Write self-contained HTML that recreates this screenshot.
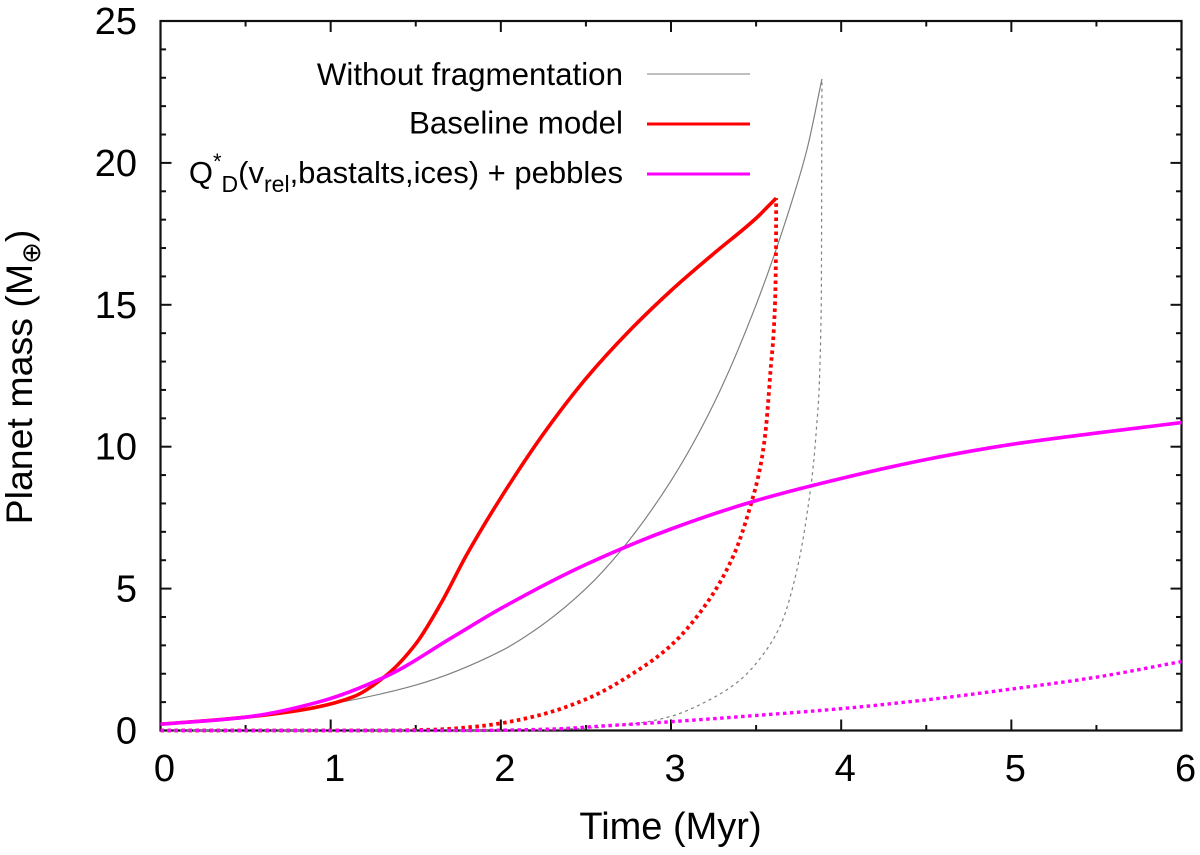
<!DOCTYPE html>
<html lang="en">
<head>
<meta charset="utf-8">
<title>Planet mass vs time</title>
<style>
html,body{margin:0;padding:0;background:#fff;}
svg{display:block;font-family:"Liberation Sans",sans-serif;fill:#000;}
</style>
</head>
<body>
<svg id="chart" xmlns="http://www.w3.org/2000/svg" width="1200" height="855" viewBox="0 0 1200 855">
  <rect x="0" y="0" width="1200" height="855" fill="#fff"/>
  <g id="ticks"></g>
  <g id="tick-labels"></g>
  <rect x="160.5" y="21" width="1021" height="709.5" fill="none" stroke="#111" stroke-width="2.2"/>
  <g id="series"></g>
  <text x="670.5" y="839" font-size="38" text-anchor="middle">Time (Myr)</text>
  <text transform="translate(32,377) rotate(-90)" font-size="37.5" text-anchor="middle">Planet mass (M<tspan font-size="26" dy="8">⊕</tspan><tspan dy="-8">)</tspan></text>
  <g>
    <g>
      <text x="623" y="85" font-size="31.3" text-anchor="end">Without fragmentation</text>
      <line x1="647" x2="750" y1="74" y2="74" stroke="#aaa" stroke-width="1.6"/>
    </g>
    <g>
      <text x="623" y="133.5" font-size="31.3" text-anchor="end">Baseline model</text>
      <line x1="647" x2="750" y1="124" y2="124" stroke="#ff0000" stroke-width="3"/>
    </g>
    <g>
      <text x="623" y="183" font-size="31" text-anchor="end">Q<tspan font-size="22" dy="-14">*</tspan><tspan font-size="23" dy="23">D</tspan><tspan dy="-9">(v</tspan><tspan font-size="23" dy="9">rel</tspan><tspan dy="-9">,bastalts,ices) + pebbles</tspan></text>
      <line x1="647" x2="750" y1="174" y2="174" stroke="#ff00ff" stroke-width="3"/>
    </g>
  </g>
</svg>
<script>
const xTickLabels = [0, 1, 2, 3, 4, 5, 6];
const yTickLabels = [0, 5, 10, 15, 20, 25];
const xMinorTicks = [0.5, 1.5, 2.5, 3.5, 4.5, 5.5];
const yMinorTicks = [1, 2, 3, 4, 6, 7, 8, 9, 11, 12, 13, 14, 16, 17, 18, 19, 21, 22, 23, 24];

const grayTime = [0, 0.5, 1.0, 1.5, 2.0, 2.25, 2.5, 2.7, 3.0, 3.25, 3.5, 3.7, 3.8, 3.887];
const grayMass = [0.22, 0.47, 0.93, 1.6, 2.8, 3.75, 5.0, 6.3, 8.8, 11.5, 15.0, 18.45, 20.5, 22.96];

const redTime = [0, 0.5, 0.9, 1.134, 1.33, 1.5, 1.65, 1.8, 2.0, 2.25, 2.5, 2.75, 3.0, 3.25, 3.5, 3.618];
const redMass = [0.22, 0.47, 0.8, 1.19, 1.96, 3.05, 4.5, 6.2, 8.2, 10.45, 12.4, 14.05, 15.5, 16.8, 18.05, 18.76];

const magentaTime = [0, 0.5, 0.938, 1.33, 1.72, 2.0, 2.5, 3.0, 3.5, 4.0, 4.5, 5.0, 5.5, 6.0];
const magentaMass = [0.22, 0.47, 1.02, 1.92, 3.3, 4.3, 5.85, 7.1, 8.1, 8.88, 9.55, 10.08, 10.48, 10.85];

const grayCoreTime = [0, 2.0, 2.5, 2.8, 3.0, 3.2, 3.4, 3.55, 3.65, 3.74, 3.8, 3.854, 3.883, 3.887];
const grayCoreMass = [0, 0, 0.08, 0.25, 0.5, 1.0, 1.75, 2.75, 3.8, 5.66, 7.66, 10.6, 15, 22.96];

const redCoreTime = [0, 1.3, 1.6, 1.9, 2.2, 2.5, 2.8, 3.0, 3.2, 3.37, 3.466, 3.525, 3.555, 3.585, 3.608, 3.617, 3.618];
const redCoreMass = [0, 0, 0.03, 0.17, 0.5, 1.1, 2.1, 3.0, 4.4, 6.2, 7.9, 9.3, 10.5, 12.7, 14.59, 17, 18.76];

const magentaCoreTime = [0, 1.8, 2.3, 2.6, 3.0, 3.5, 4.0, 4.5, 5.0, 5.5, 6.0];
const magentaCoreMass = [0, 0, 0.05, 0.16, 0.31, 0.53, 0.77, 1.08, 1.46, 1.88, 2.43];

const svgNS = 'http://www.w3.org/2000/svg';
const xScale = function (v) { return 160.5 + v * 170.17; };
const yScale = function (v) { return 730.5 - v * 28.38; };

function monotonePath(xsData, ysData) {
  const xs = xsData.map(xScale);
  const ys = ysData.map(yScale);
  const n = xs.length;
  const d = [];
  for (let i = 0; i < n - 1; i++) d.push((ys[i + 1] - ys[i]) / (xs[i + 1] - xs[i]));
  const m = [d[0]];
  for (let i = 1; i < n - 1; i++) {
    if (d[i - 1] * d[i] <= 0) { m.push(0); continue; }
    const h0 = xs[i] - xs[i - 1];
    const h1 = xs[i + 1] - xs[i];
    const w1 = 2 * h1 + h0;
    const w2 = h1 + 2 * h0;
    m.push((w1 + w2) / (w1 / d[i - 1] + w2 / d[i]));
  }
  m.push(d[n - 2]);
  let path = 'M' + xs[0].toFixed(2) + ',' + ys[0].toFixed(2);
  for (let i = 0; i < n - 1; i++) {
    const h = (xs[i + 1] - xs[i]) / 3;
    path += 'C' + (xs[i] + h).toFixed(2) + ',' + (ys[i] + m[i] * h).toFixed(2) + ' ' +
      (xs[i + 1] - h).toFixed(2) + ',' + (ys[i + 1] - m[i + 1] * h).toFixed(2) + ' ' +
      xs[i + 1].toFixed(2) + ',' + ys[i + 1].toFixed(2);
  }
  return path;
}

const tickGroup = document.getElementById('ticks');
const labelGroup = document.getElementById('tick-labels');
const seriesGroup = document.getElementById('series');

function addTick(x1, y1, x2, y2) {
  const el = document.createElementNS(svgNS, 'line');
  
  
  el.setAttribute('x1', x1);
  el.setAttribute('y1', y1);
  el.setAttribute('x2', x2);
  el.setAttribute('y2', y2);
  el.setAttribute('stroke', '#111');
  el.setAttribute('stroke-width', '2');
  tickGroup.appendChild(el);
}

function addXTicks(v, len) {
  const x = xScale(v);
  addTick(x, yScale(0), x, yScale(0) - len);
  addTick(x, yScale(25), x, yScale(25) + len);
}

function addYTicks(v, len) {
  const y = yScale(v);
  addTick(xScale(0), y, xScale(0) + len, y);
  addTick(xScale(6), y, xScale(6) - len, y);
}

xTickLabels.forEach(function (v) {
  addXTicks(v, 11);
  const el = document.createElementNS(svgNS, 'text');
  
  
  el.setAttribute('x', xScale(v) + 4);
  el.setAttribute('y', 781);
  el.setAttribute('font-size', '38');
  el.setAttribute('text-anchor', 'middle');
  el.textContent = v;
  labelGroup.appendChild(el);
});

yTickLabels.forEach(function (v) {
  addYTicks(v, 11);
  const el = document.createElementNS(svgNS, 'text');
  
  
  el.setAttribute('x', 137);
  el.setAttribute('y', yScale(v) + 13);
  el.setAttribute('font-size', '38');
  el.setAttribute('text-anchor', 'end');
  el.textContent = v;
  labelGroup.appendChild(el);
});

xMinorTicks.forEach(function (v) { addXTicks(v, 5.5); });
yMinorTicks.forEach(function (v) { addYTicks(v, 5.5); });

function addSeries(name, xs, ys, color, width, dash) {
  const el = document.createElementNS(svgNS, 'path');
  
  
  el.setAttribute('d', monotonePath(xs, ys));
  el.setAttribute('fill', 'none');
  el.setAttribute('stroke', color);
  el.setAttribute('stroke-width', width);
  if (dash) el.setAttribute('stroke-dasharray', dash);
  seriesGroup.appendChild(el);
}

addSeries('without-fragmentation-total-curve', grayTime, grayMass, '#808080', 1.2, '');
addSeries('without-fragmentation-core-curve', grayCoreTime, grayCoreMass, '#808080', 1.2, '3 3.5');
addSeries('baseline-total-curve', redTime, redMass, '#ff0000', 3.6, '');
addSeries('baseline-core-curve', redCoreTime, redCoreMass, '#ff0000', 3.8, '3.5 3.5');
addSeries('qd-pebbles-total-curve', magentaTime, magentaMass, '#ff00ff', 3.6, '');
addSeries('qd-pebbles-core-curve', magentaCoreTime, magentaCoreMass, '#ff00ff', 3.4, '3.5 3.5');
</script>
</body>
</html>
